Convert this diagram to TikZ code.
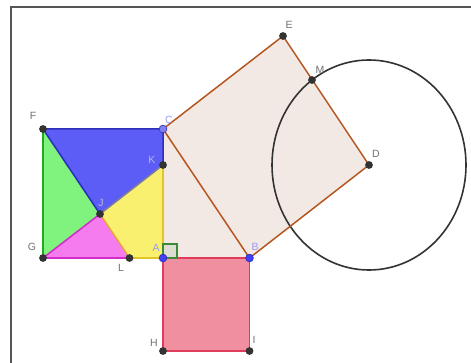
\documentclass[tikz,border=0pt]{standalone}
\usepackage{fontspec}
\setmainfont{Liberation Sans}
\definecolor{fblue}{HTML}{5C5CF6}
\definecolor{eblue}{HTML}{2E2EB8}
\definecolor{fgreen}{HTML}{80F27E}
\definecolor{egreen}{HTML}{22A822}
\definecolor{fmag}{HTML}{F47CEE}
\definecolor{emag}{HTML}{D22CC8}
\definecolor{fyel}{HTML}{F8F06E}
\definecolor{eyel}{HTML}{E2C426}
\definecolor{eorange}{HTML}{E8A040}
\definecolor{fsq}{HTML}{F3E9E4}
\definecolor{esq}{HTML}{B4561E}
\definecolor{fred}{HTML}{EF8FA0}
\definecolor{ered}{HTML}{E03C5A}
\definecolor{ptdark}{HTML}{333333}
\definecolor{ptblue}{HTML}{4040F4}
\definecolor{ptlblue}{HTML}{8080EE}
\definecolor{labgray}{HTML}{707070}
\definecolor{lablight}{HTML}{B8B8D0}
\definecolor{labblue}{HTML}{9A9AF4}
\definecolor{framec}{HTML}{555555}
\definecolor{fangle}{HTML}{DCDCD0}
\definecolor{eangle}{HTML}{3A8A3A}
\begin{document}
\begin{tikzpicture}[x=1pt,y=-1pt,
  lbl/.style={font=\fontsize{10.5}{10.5}\selectfont, text=labgray, inner sep=0pt},
  ptd/.style={circle, fill=ptdark, inner sep=0pt, minimum size=7.8pt},
  ptb/.style={circle, fill=ptblue, draw=eblue, line width=0.6pt, inner sep=0pt, minimum size=7.8pt},
  ptc/.style={circle, fill=ptlblue, draw=eblue, line width=0.6pt, inner sep=0pt, minimum size=7.8pt},
  edge/.style={line width=1.5pt, line join=round}]
\useasboundingbox (0,0) rectangle (471,363);
% points
\coordinate (F) at (43,129);
\coordinate (C) at (163,129);
\coordinate (K) at (163,165);
\coordinate (J) at (100,214);
\coordinate (G) at (43,258);
\coordinate (L) at (129.5,258);
\coordinate (A) at (163,258);
\coordinate (B) at (249.5,258);
\coordinate (H) at (163,351);
\coordinate (I) at (249.5,351);
\coordinate (E) at (283,36);
\coordinate (D) at (369,165);
\coordinate (M) at (312,80);
\coordinate (R1) at (177,258);
\coordinate (R2) at (177,244);
\coordinate (R3) at (163,244);
\coordinate (T1) at (11,363);
\coordinate (T2) at (11,7);
\coordinate (T3) at (471,7);
% frame
\draw[framec, line width=1.3pt] (T1) -- (T2) -- (T3);
% triangle ABC and square on CB
\fill[fsq] (A) -- (B) -- (C) -- cycle;
\fill[fsq] (C) -- (E) -- (D) -- (B) -- cycle;
% circle
\draw[ptdark, line width=1.6pt] (D) ellipse [x radius=97, y radius=105];
\draw[esq, edge] (C) -- (E) -- (D) -- (B) -- cycle;
% red square
\filldraw[fill=fred, draw=ered, edge] (A) -- (B) -- (I) -- (H) -- cycle;
% dissected square
\fill[fblue] (F) -- (C) -- (K) -- (J) -- cycle;
\fill[fgreen] (F) -- (J) -- (G) -- cycle;
\fill[fmag] (G) -- (J) -- (L) -- cycle;
\fill[fyel] (J) -- (K) -- (A) -- (L) -- cycle;
\draw[eblue, edge] (J) -- (F) -- (C) -- (K);
\draw[egreen, edge] (F) -- (G);
\draw[emag, edge] (G) -- (L);
\draw[emag, edge] (G) -- (J);
\draw[eorange, edge] (J) -- (L);
\draw[eyel, edge] (L) -- (A) -- (K);
\draw[eblue!60!fyel, edge] (K) -- (J);
% right angle mark
\filldraw[fill=fangle, draw=eangle, line width=1.1pt] (A) -- (R1) -- (R2) -- (R3) -- cycle;
% point markers
\node[ptd] (nF) at (F) {};
\node[ptd] (nG) at (G) {};
\node[ptd] (nK) at (K) {};
\node[ptd] (nJ) at (J) {};
\node[ptd] (nL) at (L) {};
\node[ptd] (nH) at (H) {};
\node[ptd] (nI) at (I) {};
\node[ptd] (nE) at (E) {};
\node[ptd] (nD) at (D) {};
\node[ptd] (nM) at (M) {};
\node[ptb] (nA) at (A) {};
\node[ptb] (nB) at (B) {};
\node[ptc] (nC) at (C) {};
% labels
\node[lbl] (lF) at (33,116) {F};
\node[lbl, text=labblue] (lC) at (169,120) {C};
\node[lbl, text=lablight] (lK) at (152,160) {K};
\node[lbl, text=lablight] (lJ) at (101,203) {J};
\node[lbl] (lG) at (32,247) {G};
\node[lbl] (lL) at (121,268) {L};
\node[lbl, text=labblue] (lA) at (156,248) {A};
\node[lbl, text=labblue] (lB) at (255,247) {B};
\node[lbl] (lH) at (154,343) {H};
\node[lbl] (lI) at (254,340) {I};
\node[lbl] (lE) at (289,25) {E};
\node[lbl] (lM) at (320,70) {M};
\node[lbl] (lD) at (376,154) {D};
\end{tikzpicture}
\end{document}
